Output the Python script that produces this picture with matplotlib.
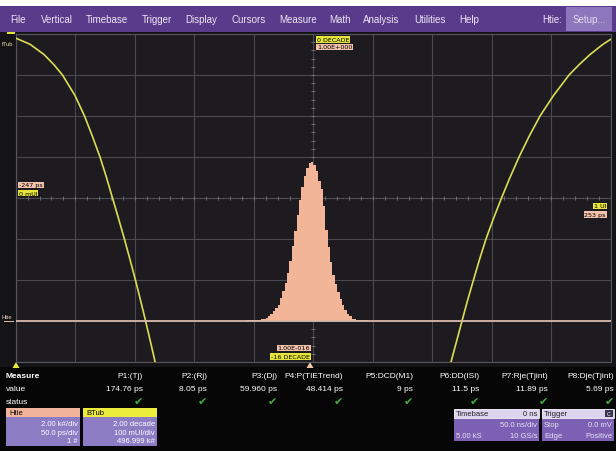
import numpy as np
import matplotlib.pyplot as plt
from matplotlib.patches import Rectangle, Polygon

plt.rcParams['font.family'] = ['Liberation Sans', 'DejaVu Sans']

W, H = 616, 452

# menu bar
menu_items = ["File", "Vertical", "Timebase", "Trigger", "Display", "Cursors",
              "Measure", "Math", "Analysis", "Utilities", "Help"]

# bathtub curve (BTub): x in UI, y in log10(BER) decades
btub_left_ui = [0.0, 0.024, 0.0475, 0.0643, 0.0786, 0.0996, 0.1156, 0.129,
                0.1416, 0.1525, 0.1626, 0.1727, 0.1826, 0.192, 0.2011, 0.2098,
                0.2182, 0.2263, 0.2342]
btub_left_dec = [-0.2, -0.5, -1.0, -1.5, -2.0, -3.0, -4.0, -5.0, -6.0, -7.0,
                 -8.0, -9.0, -10.0, -11.0, -12.0, -13.0, -14.0, -15.0, -16.0]
btub_right_ui = [0.7312, 0.7405, 0.7497, 0.759, 0.769, 0.7791, 0.79, 0.8026,
                 0.8161, 0.8303, 0.8455, 0.8623, 0.8808, 0.9034, 0.9295,
                 0.9463, 0.9648, 0.9866, 1.0]
btub_right_dec = [-16.0, -15.0, -14.0, -13.0, -12.0, -11.0, -10.0, -9.0, -8.0,
                  -7.0, -6.0, -5.0, -4.0, -3.0, -2.0, -1.5, -1.0, -0.5, -0.25]

# TIE histogram (Htie): bin centres in ps, counts
htie_ps = [-54, -52, -50, -48, -46, -44, -42, -40, -38, -36, -34, -32, -30,
           -28, -26, -24, -22, -20, -18, -16, -14, -12, -10, -8, -6, -4, -2,
           0, 2, 4, 6, 8, 10, 12, 14, 16, 18, 20, 22, 24, 26, 28, 30, 32, 34,
           36, 38, 40, 42, 44, 46, 48, 50]
htie_counts = [20, 40, 45, 50, 55, 60, 70, 80, 95, 140, 230, 340, 470, 620,
               800, 1100, 1450, 1830, 2350, 2950, 3650, 4400, 5150, 5900, 6550,
               7050, 7450, 7700, 7760, 7600, 7300, 6850, 6450, 5600, 4450, 3600,
               2900, 2250, 1800, 1400, 1050, 760, 530, 360, 220, 120, 80, 60,
               45, 35, 30, 25, 15]

# measurement table
meas_names = ["P1:(Tj)", "P2:(Rj)", "P3:(Dj)", "P4:P(TIETrend)", "P5:DCD(M1)",
              "P6:DD(ISI)", "P7:Rje(Tjint)", "P8:Dje(Tjint)"]
meas_values = ["174.76 ps", "8.05 ps", "59.960 ps", "48.414 ps", "9 ps",
               "11.5 ps", "11.89 ps", "5.69 ps"]
meas_right = [143, 207, 277, 343, 413, 479, 548, 614]

fig = plt.figure(figsize=(W / 100, H / 100), dpi=100, facecolor='#060606')


def fx(x):
    return x / W


def fy(y):
    return 1 - y / H


def box(x0, y0, x1, y1, color, **kw):
    fig.patches.append(Rectangle((fx(x0), fy(y1)), (x1 - x0) / W, (y1 - y0) / H,
                                 transform=fig.transFigure, facecolor=color,
                                 edgecolor=kw.pop('ec', 'none'), **kw))


def txt(x, y, s, **kw):
    kw.setdefault('va', 'center')
    kw.setdefault('color', 'white')
    kw.setdefault('fontsize', 6)
    fig.text(fx(x), fy(y), s, **kw)


def tri(x, y0, y1, color):
    pts = [(fx(x - 3.5), fy(y1)), (fx(x + 3.5), fy(y1)), (fx(x), fy(y0))]
    fig.patches.append(Polygon(pts, closed=True, transform=fig.transFigure,
                               facecolor=color, edgecolor='none'))


# top strip + menu bar
box(0, 0, W, 7, 'white')
box(0, 7, W, 33, '#5a3b8b')
menu_x = [10, 41, 86, 142, 185, 231, 279, 329, 363, 414, 459]
for name, x in zip(menu_items, menu_x):
    txt(x, 20, name, fontsize=7, color='#ece6f4')
box(566, 8, 612, 32, '#8d76bb')
txt(589, 20, "Setup...", fontsize=7, color='#e4def0', ha='center')
txt(562, 20, "Htie:", fontsize=7, color='#ece6f4', ha='right')

# screen background
box(0, 33, W, 368, '#141316')

# grid area
L, R, T, B = 15.7, 611.0, 35.0, 363.0
rect = [fx(L), fy(B), (R - L) / W, (B - T) / H]

ax = fig.add_axes(rect, facecolor='#1d1b20')
ax.set_zorder(1.2)
ax.set_xlim(0, 1)
ax.set_ylim(-16, 0)
ax.set_xticks(np.linspace(0, 1, 11))
ax.set_yticks(np.arange(-16, 1, 2))
ax.grid(True, color='#4b4950', lw=0.8)
ax.tick_params(length=0, labelbottom=False, labelleft=False)
for s in ax.spines.values():
    s.set_color('#58565d')
    s.set_linewidth(0.8)
# center cross with minor ticks
ax.axhline(-8, color='#6a6870', lw=0.6, ls=(0, (1, 3)))
ax.plot(np.arange(0.02, 1, 0.02), np.full(49, -8.0), ls='none', marker='|',
        ms=3, color='#77757d', mew=0.6)
ax.plot(np.full(39, 0.5), np.arange(-15.6, -0.1, 0.4), ls='none', marker='_',
        ms=3, color='#77757d', mew=0.6)

ax.plot(btub_left_ui, btub_left_dec, color='#dcdc55', lw=1.2,
        solid_capstyle='round', solid_joinstyle='round', zorder=5)
ax.plot(btub_right_ui, btub_right_dec, color='#dcdc55', lw=1.2,
        solid_capstyle='round', solid_joinstyle='round', zorder=5)

ax2 = fig.add_axes(rect, facecolor='none')
ax2.set_zorder(1.3)
ax2.set_xlim(-247, 253)
ax2.set_ylim(-2000, 14000)
ax2.axis('off')
ax2.bar(htie_ps, htie_counts, width=2.1, color='#f2b597', edgecolor='none',
        linewidth=0, zorder=3)
ax2.axhline(0, color='#d7b9aa', lw=1.3, zorder=4)

# trace labels on the grid
lab = dict(fontsize=4.6, va='center', family='DejaVu Sans')
yb = dict(boxstyle='square,pad=0.12', fc='#e6e63a', ec='none')
pb = dict(boxstyle='square,pad=0.12', fc='#f2c2aa', ec='none')
txt(317, 40.5, "0 DECADE", color='black', bbox=yb, **lab)
txt(317, 48, "1.00E+000", color='black', bbox=pb, **lab)
txt(310, 349, "1.00E-016", color='black', ha='right', bbox=pb, **lab)
txt(310, 357.5, "-16 DECADE", color='black', ha='right', bbox=yb, **lab)
txt(19, 186, "-247 ps", color='black', bbox=pb, **lab)
txt(19, 194, "0 mUI", color='black', bbox=yb, **lab)
txt(606, 207, "1 UI", color='black', ha='right', bbox=yb, **lab)
txt(606, 215.5, "253 ps", color='black', ha='right', bbox=pb, **lab)
txt(2, 44, "fTub", fontsize=4.2, color='#e0e0a0')
box(7, 33, 15, 35, '#e6e63a')
txt(2, 318, "Htie", fontsize=4.2, color='#e8d0c4')
box(4, 322, 14, 323, '#d7b9aa')

tri(16, 363, 369, '#e6e63a')
tri(310, 363, 369, '#f2c2aa')

# measurement table
txt(6, 377, "Measure", fontweight='bold')
txt(6, 390, "value")
txt(6, 402, "status")
for name, val, xr in zip(meas_names, meas_values, meas_right):
    txt(xr, 377, name, ha='right')
    txt(xr, 390, val, ha='right')
    txt(xr - 5, 402, "\u2714", ha='center', color='#45b33c', fontsize=8,
        family='DejaVu Sans')

# channel descriptor boxes
for x0, x1, head, hcol, rows in [
        (6, 80, "Htie", '#f2b49a', ["2.00 k#/div", "50.0 ps/div", "1 #"]),
        (83, 157, "BTub", '#ecec3c', ["2.00 decade", "100 mUI/div", "496.999 k#"])]:
    box(x0, 409, x1, 447, '#8b7cc4')
    box(x0, 409, x1, 418, hcol)
    txt(x0 + 3, 413.5, head, color='black', fontsize=5.5)
    for y, r in zip([425, 434, 442], rows):
        txt(x1 - 2, y, r, ha='right', fontsize=5.5)

for x0, x1, head, hr, rows in [
        (454, 539, "Timebase", "0 ns", [("", "50.0 ns/div"), ("5.00 kS", "10 GS/s")]),
        (542, 614, "Trigger", "", [("Stop", "0.0 mV"), ("Edge", "Positive")])]:
    box(x0, 410, x1, 442, '#7c60b3')
    box(x0, 410, x1, 419, '#ddd5ee', ec='white', lw=0.5)
    txt(x0 + 2, 414.5, head, color='#222', fontsize=5.5)
    if hr:
        txt(x1 - 2, 414.5, hr, color='#222', fontsize=5.5, ha='right')
    for y, (l, r) in zip([426, 437], rows):
        txt(x0 + 2, y, l, fontsize=5.5, color='#e8e2f4')
        txt(x1 - 2, y, r, fontsize=5.5, color='#e8e2f4', ha='right')
box(605, 411, 613, 418, '#3a3450')
txt(609, 414.5, "C", fontsize=4, color='white', ha='center')

fig.savefig('out.png', dpi=100, facecolor=fig.get_facecolor())
